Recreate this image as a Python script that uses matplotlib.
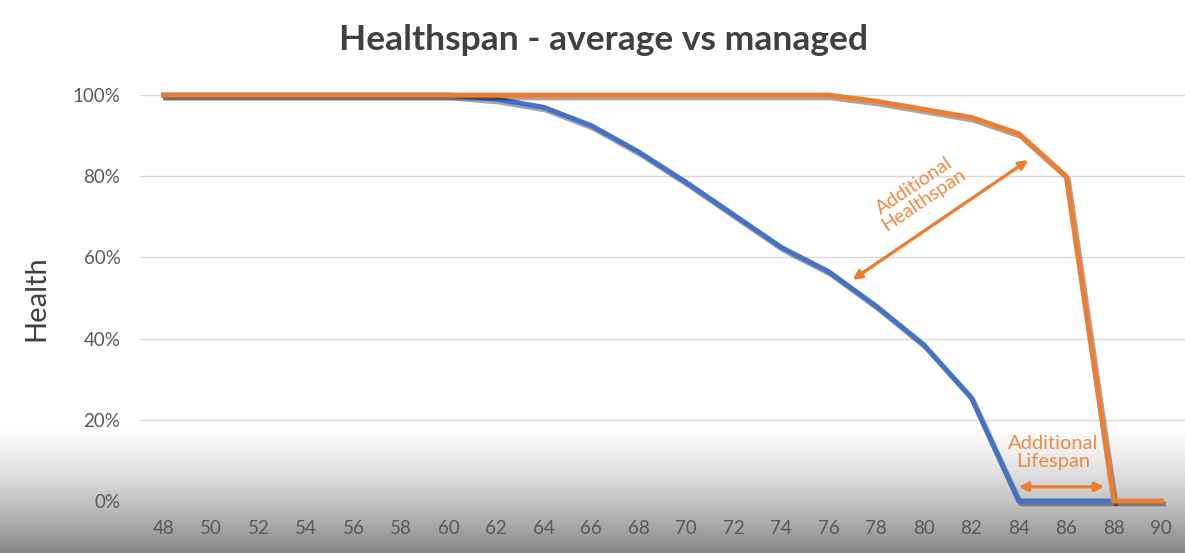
import numpy as np
import matplotlib.pyplot as plt
import matplotlib.patheffects as pe

plt.rcParams['font.family'] = ['Lato', 'DejaVu Sans']

ages = [48, 50, 52, 54, 56, 58, 60, 62, 64, 66, 68, 70,
        72, 74, 76, 78, 80, 82, 84, 86, 88, 90]
average = [100, 100, 100, 100, 100, 100, 100, 99, 97, 92.5, 86, 78.5,
           70.5, 62.5, 56.5, 48, 38.5, 25.5, 0, 0, 0, np.nan]
managed = [100, 100, 100, 100, 100, 100, 100, 100, 100, 100, 100, 100,
           100, 100, 100, 98.5, 96.5, 94.5, 90.5, 80, 0, 0]
yticks = [0, 20, 40, 60, 80, 100]

blue = '#4472C4'
orange = '#ED7D31'

fig = plt.figure(figsize=(11.85, 5.53), dpi=100)

# grey fade at the bottom of the frame
bg = fig.add_axes([0, 0, 1, 1], zorder=-10)
grad = np.ones((553, 1))
rows = np.arange(553)
fade = np.clip((rows - 415) / 138.0, 0, 1) ** 1.5
grad[:, 0] = 1 - 0.48 * fade
bg.imshow(grad, cmap='gray', vmin=0, vmax=1, aspect='auto', extent=[0, 1, 1, 0])
bg.set_xlim(0, 1)
bg.set_ylim(1, 0)
bg.axis('off')

ax = fig.add_axes([0.118, 0.094, 0.882, 0.734])
ax.patch.set_alpha(0)

shadow = [pe.SimpleLineShadow(offset=(1.5, -2), shadow_color='k', alpha=0.35), pe.Normal()]
ax.plot(ages, average, color=blue, lw=3.6, solid_joinstyle='round',
        path_effects=shadow, clip_on=False, zorder=3)
ax.plot(ages, managed, color=orange, lw=3.6, solid_joinstyle='round',
        path_effects=shadow, clip_on=False, zorder=4)

ax.set_xlim(47, 91)
ax.set_ylim(0, 100)
ax.set_xticks(ages)
ax.set_xticklabels([str(a) for a in ages])
ax.set_yticks(yticks)
ax.set_yticklabels([f'{v}%' for v in yticks])
ax.tick_params(length=0, colors='#595959', labelsize=13.5)
ax.tick_params(axis='x', pad=14)
ax.tick_params(axis='y', pad=14)
ax.grid(axis='y', color='#D9D9D9', lw=1)
ax.set_axisbelow(True)
for s in ax.spines.values():
    s.set_visible(False)

ax.set_ylabel('Health', fontsize=21, color='#404040', labelpad=17)
fig.text(0.509, 0.928, 'Healthspan - average vs managed', ha='center', va='center',
         fontsize=25.5, fontweight='bold', color='#404040')

# annotations
ax.annotate('', xy=(84.4, 84), xytext=(77.0, 54.5),
            arrowprops=dict(arrowstyle='<|-|>', color=orange, lw=2.4,
                            mutation_scale=13, shrinkA=0, shrinkB=0))
ax.text(79.8, 76, 'Additional\nHealthspan', color='#EE8A45', fontsize=14,
        rotation=34, ha='center', va='center', linespacing=1.0,
        rotation_mode='anchor')
ax.annotate('', xy=(87.6, 3.5), xytext=(84.0, 3.5),
            arrowprops=dict(arrowstyle='<|-|>', color=orange, lw=2.4,
                            mutation_scale=13, shrinkA=0, shrinkB=0))
ax.text(85.45, 12, 'Additional\nLifespan', color='#EE8A45', fontsize=14.5,
        ha='center', va='center', linespacing=1.05)

fig.savefig('out.png', dpi=100)
